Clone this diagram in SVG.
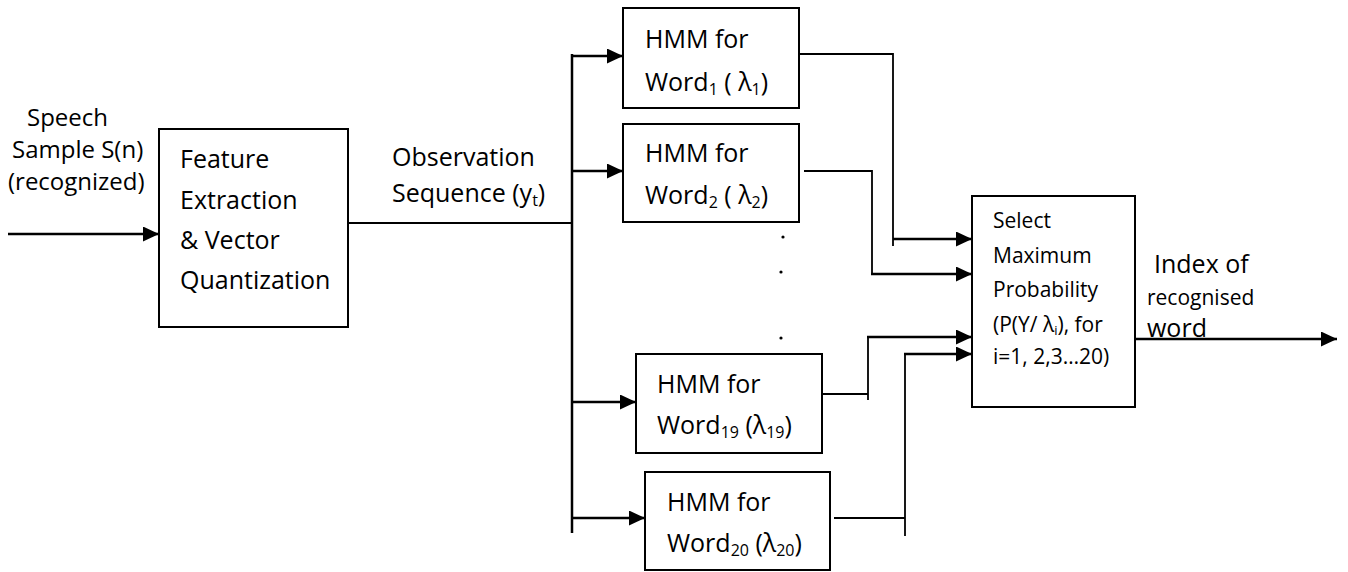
<svg xmlns="http://www.w3.org/2000/svg" width="1348" height="572" viewBox="0 0 1348 572">
  <style>
    .box { fill: #ffffff; stroke: #000000; stroke-width: 2; }
    .t { font-family: "Open Sans", "Liberation Sans", sans-serif; font-size: 25px; fill: #000000; }
    .tl { font-family: "Open Sans", "Liberation Sans", sans-serif; font-size: 24px; fill: #000000; }
    .ts { font-family: "Open Sans", "Liberation Sans", sans-serif; font-size: 21px; fill: #000000; }
    .sub { font-size: 16px; }
    .subs { font-size: 13px; }
    .arrow { fill: none; stroke: #000000; stroke-width: 2.5; marker-end: url(#head); }
    .bus { fill: none; stroke: #000000; stroke-width: 2.5; }
    .wire { fill: none; stroke: #000000; stroke-width: 1.8; }
  </style>
  <defs>
    <marker id="head" markerUnits="userSpaceOnUse" markerWidth="18" markerHeight="16" refX="16" refY="7.5" orient="auto">
      <path d="M0,0 L16,7.5 L0,15 Z" fill="#000000"/>
    </marker>
  </defs>

  <rect width="1348" height="572" fill="#ffffff"/>

  <!-- connectors -->
  <g id="connectors">
    <!-- speech input -->
    <path class="arrow" d="M8,234 H159"/>
    <!-- feature extraction to observation bus -->
    <path class="wire" d="M348,223 H572"/>
    <!-- observation bus -->
    <path class="bus" d="M572,54 V533"/>
    <path class="arrow" d="M571,56 H623"/>
    <path class="arrow" d="M571,171 H623"/>
    <path class="arrow" d="M571,402 H636"/>
    <path class="arrow" d="M571,518 H645"/>
    <!-- HMM outputs to selector -->
    <path class="wire" d="M799,54 H893 V246"/>
    <path class="arrow" d="M893,239 H972"/>
    <path class="wire" d="M804,171 H872 V274"/>
    <path class="arrow" d="M871,274 H972"/>
    <path class="wire" d="M822,394 H868 M868,400 V337"/>
    <path class="arrow" d="M867,337 H972"/>
    <path class="wire" d="M834,518 H905 M905,536 V354"/>
    <path class="arrow" d="M904,354 H972"/>
    <!-- selector output -->
    <path class="arrow" d="M1135,339 H1337"/>
    <!-- ellipsis between word models -->
    <circle cx="783" cy="237" r="1.6" fill="#000000"/>
    <circle cx="781" cy="272" r="1.6" fill="#000000"/>
    <circle cx="781" cy="338" r="1.6" fill="#000000"/>
  </g>

  <!-- input label -->
  <g id="input-label">
    <text class="tl" x="27" y="126">Speech</text>
    <text class="tl" x="12" y="158">Sample S(n)</text>
    <text class="tl" x="8" y="190">(recognized)</text>
  </g>

  <!-- feature extraction -->
  <g id="feature-extraction">
    <rect class="box" x="159" y="129" width="189" height="198"/>
    <text class="t" x="180" y="168">Feature</text>
    <text class="t" x="180" y="209">Extraction</text>
    <text class="t" x="180" y="249">&amp; Vector</text>
    <text class="t" x="180" y="289" font-size="23">Quantization</text>
  </g>

  <!-- observation label -->
  <g id="observation-label">
    <text class="t" x="392" y="166">Observation</text>
    <text class="t" x="392" y="202">Sequence (y<tspan class="sub" dy="4">t</tspan><tspan dy="-4">)</tspan></text>
  </g>

  <!-- word models -->
  <g id="hmm-word1">
    <rect class="box" x="623" y="8" width="176" height="100"/>
    <text class="t" x="645" y="48">HMM for</text>
    <text class="t" x="645" y="91">Word<tspan class="sub" dy="4">1</tspan><tspan dy="-4"> ( λ</tspan><tspan class="sub" dy="4">1</tspan><tspan dy="-4">)</tspan></text>
  </g>
  <g id="hmm-word2">
    <rect class="box" x="623" y="124" width="176" height="98"/>
    <text class="t" x="645" y="162">HMM for</text>
    <text class="t" x="645" y="204">Word<tspan class="sub" dy="4">2</tspan><tspan dy="-4"> ( λ</tspan><tspan class="sub" dy="4">2</tspan><tspan dy="-4">)</tspan></text>
  </g>
  <g id="hmm-word19">
    <rect class="box" x="636" y="354" width="186" height="99"/>
    <text class="t" x="657" y="393">HMM for</text>
    <text class="t" x="657" y="434">Word<tspan class="sub" dy="4">19</tspan><tspan dy="-4"> (λ</tspan><tspan class="sub" dy="4">19</tspan><tspan dy="-4">)</tspan></text>
  </g>
  <g id="hmm-word20">
    <rect class="box" x="645" y="472" width="185" height="98"/>
    <text class="t" x="667" y="511">HMM for</text>
    <text class="t" x="667" y="552">Word<tspan class="sub" dy="4">20</tspan><tspan dy="-4"> (λ</tspan><tspan class="sub" dy="4">20</tspan><tspan dy="-4">)</tspan></text>
  </g>

  <!-- maximum selector -->
  <g id="select-max">
    <rect class="box" x="972" y="196" width="163" height="211"/>
    <text class="ts" x="993" y="228">Select</text>
    <text class="ts" x="993" y="263">Maximum</text>
    <text class="ts" x="993" y="297">Probability</text>
    <text class="ts" x="993" y="332">(P(Y/ λ<tspan class="subs" dy="3">i</tspan><tspan dy="-3">), for</tspan></text>
    <text class="ts" x="993" y="364">i=1, 2,3…20)</text>
  </g>

  <!-- output label -->
  <g id="output-label">
    <text class="t" x="1154" y="273">Index of</text>
    <text class="ts" x="1147" y="305">recognised</text>
    <text class="t" x="1147" y="337">word</text>
  </g>
</svg>
